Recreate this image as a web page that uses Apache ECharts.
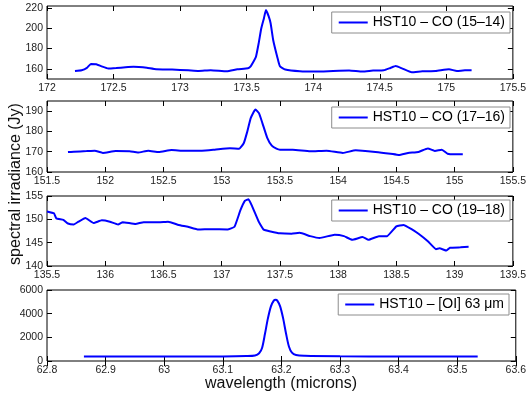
<!DOCTYPE html>
<html><head><meta charset="utf-8">
<script src="https://cdn.jsdelivr.net/npm/echarts@6/dist/echarts.min.js"></script>
<style>html,body{margin:0;padding:0;background:#fff}#c{width:529px;height:401px}</style>
</head><body><div id="c"></div><script>
// ---- data ----
const names = ['HST10 \u2013 CO (15\u201314)', 'HST10 \u2013 CO (17\u201316)', 'HST10 \u2013 CO (19\u201318)', 'HST10 \u2013 [OI] 63 \u03bcm'];

const co1514_x = [172.21,172.26,172.30,172.33,172.37,172.41,172.46,172.52,172.59,172.65,172.69,172.75,172.82,172.94,173.06,173.14,173.23,173.35,173.43,173.51,173.53,173.555,173.57,173.59,173.61,173.63,173.645,173.665,173.68,173.70,173.73,173.75,173.79,173.90,174.02,174.15,174.27,174.37,174.45,174.53,174.58,174.62,174.67,174.74,174.82,174.92,175.02,175.08,175.14,175.19];
const co1514_y = [158,158.6,161,164.8,164.6,162.5,160.3,160.8,161.6,162,161.8,161,159.6,159.3,158.6,158,158.6,157.6,159.6,160.6,162.5,168,172,185,200,210,218,212,205,188,171.7,162.5,159.3,157.6,157.3,157.9,158.3,157.3,158.3,158.6,160.9,162.8,160.3,156.6,157.6,157.9,159.6,157.9,158.6,158.6];

const co1716_x = [151.68,151.73,151.84,151.91,151.98,152.09,152.21,152.28,152.37,152.46,152.57,152.68,152.83,152.94,153.07,153.15,153.19,153.22,153.25,153.29,153.32,153.35,153.39,153.43,153.47,153.50,153.61,153.76,153.90,154.04,154.15,154.32,154.45,154.52,154.60,154.69,154.77,154.83,154.89,154.94,155.00,155.07];
const co1716_y = [169.8,170,170.3,170.5,169.4,170.3,170.2,169.6,170.5,169.8,170.8,170.5,170.5,171,171.7,171.5,174.3,180,186.7,190.8,189,184,177,173,171.5,171,171,170.2,170.5,169.4,170.7,169.9,169,168.4,169.4,169.9,171.6,170.4,171,169,168.7,168.7];

const co1918_x = [135.50,135.56,135.58,135.64,135.68,135.73,135.77,135.83,135.90,135.97,136.04,136.11,136.15,136.26,136.33,136.46,136.54,136.63,136.71,136.80,136.91,137.05,137.11,137.16,137.20,137.23,137.26,137.32,137.36,137.42,137.50,137.60,137.67,137.76,137.84,137.97,138.05,138.12,138.21,138.26,138.35,138.42,138.50,138.56,138.63,138.69,138.77,138.84,138.87,138.93,138.96,139.05,139.12];
const co1918_y = [151.7,151.3,150.2,149.9,149.1,148.9,149.5,150.3,149.2,149.8,149.5,148.9,149.4,149,149.4,149.4,149.5,148.8,148.4,147.8,147.9,147.8,148.4,151.9,154,154.3,152.9,149.4,147.8,147.4,147,146.9,147.1,146.4,146,146.7,146.4,145.6,146.2,145.6,146.4,146.4,148.5,148.8,147.9,146.9,145.3,143.6,143.8,143.3,143.9,144,144.1];

const oi63_x = [62.863,62.9,63.0,63.1,63.14,63.155,63.162,63.167,63.172,63.177,63.182,63.187,63.190,63.193,63.198,63.203,63.208,63.213,63.218,63.225,63.24,63.3,63.4,63.535];
const oi63_y = [370,375,380,390,420,470,650,1100,2300,3600,4600,5100,5170,5100,4600,3600,2300,1200,700,500,440,400,380,370];

const xTicks = [[172,172.5,173,173.5,174,174.5,175,175.5],[151.5,152,152.5,153,153.5,154,154.5,155,155.5],[135.5,136,136.5,137,137.5,138,138.5,139,139.5],[62.8,62.9,63,63.1,63.2,63.3,63.4,63.5,63.6]];
const yTicks = [[160,180,200,220],[160,170,180,190],[140,145,150,155],[0,2000,4000,6000]];
const xRange = [[172,175.5],[151.5,155.5],[135.5,139.5],[62.8,63.6]];
const yRange = [[150,222],[160,195],[140,155],[0,6000]];

// ---- chart ----
const FONT = '"Liberation Sans", Arial, Helvetica, sans-serif';
const xs = [co1514_x, co1716_x, co1918_x, oi63_x];
const ys = [co1514_y, co1716_y, co1918_y, oi63_y];
const gridTop = [6, 101, 196, 290];
const gridH = [73, 71, 70, 71];
const legendTop = [12, 107, 200, 294];
const legendRight = [19, 19, 19, 20];
const smoothing = [0.15, 0.15, 0.1, 0.3];

const fmt = v => String(Math.round(v * 1000) / 1000);
const grid = [], xAxis = [], yAxis = [], series = [], legend = [];
for (let i = 0; i < 4; i++) {
  grid.push({left: 47, right: 10, top: gridTop[i], height: gridH[i], show: true, borderColor: '#000', borderWidth: 1, backgroundColor: '#fff'});
  const tick = {show: true, inside: true, length: 5, lineStyle: {color: '#000', width: 1}, customValues: xTicks[i]};
  xAxis.push({type: 'value', gridIndex: i, position: 'bottom', min: xRange[i][0], max: xRange[i][1],
    axisLine: {show: false}, splitLine: {show: false}, axisTick: tick,
    axisLabel: {customValues: xTicks[i], formatter: fmt, fontSize: 10.5, color: '#222', fontFamily: FONT, margin: 4, hideOverlap: false}});
  xAxis.push({type: 'value', gridIndex: i, position: 'top', min: xRange[i][0], max: xRange[i][1],
    axisLine: {show: false}, splitLine: {show: false}, axisTick: tick, axisLabel: {show: false}});
  const ytick = {show: true, inside: true, length: 5, lineStyle: {color: '#000', width: 1}, customValues: yTicks[i]};
  yAxis.push({type: 'value', gridIndex: i, position: 'left', min: yRange[i][0], max: yRange[i][1],
    axisLine: {show: false}, splitLine: {show: false}, axisTick: ytick,
    axisLabel: {customValues: yTicks[i], formatter: fmt, fontSize: 10.5, color: '#222', fontFamily: FONT, margin: 4}});
  yAxis.push({type: 'value', gridIndex: i, position: 'right', min: yRange[i][0], max: yRange[i][1],
    axisLine: {show: false}, splitLine: {show: false}, axisTick: ytick, axisLabel: {show: false}});
  series.push({type: 'line', name: names[i], xAxisIndex: 2 * i, yAxisIndex: 2 * i,
    data: xs[i].map((x, k) => [x, ys[i][k]]), symbol: 'none', showSymbol: false, smooth: smoothing[i],
    color: '#0000ff', lineStyle: {color: '#0000ff', width: 2}, animation: false, silent: true});
  legend.push({data: [{name: names[i], icon: 'rect'}], right: legendRight[i], top: legendTop[i], orient: 'horizontal',
    backgroundColor: '#fff', borderColor: '#8c8c8c', borderWidth: 1, borderRadius: 0,
    padding: [3, 5, 3, 7], itemWidth: 29, itemHeight: 2, itemGap: 0, selectedMode: false,
    itemStyle: {color: '#0000ff'},
    textStyle: {fontSize: 14, color: '#000', fontFamily: FONT, lineHeight: 15}});
}

const chart = echarts.init(document.getElementById('c'), null, {renderer: 'canvas'});
chart.setOption({
  animation: false,
  backgroundColor: '#fff',
  grid, xAxis, yAxis, series, legend,
  graphic: [
    {type: 'text', x: 16, y: 184, rotation: Math.PI / 2,
      style: {text: 'spectral irradiance (Jy)', font: '16px ' + FONT, fill: '#111', textAlign: 'center', textVerticalAlign: 'middle'}},
    {type: 'text', x: 281, y: 384,
      style: {text: 'wavelength (microns)', font: '16px ' + FONT, fill: '#111', textAlign: 'center', textVerticalAlign: 'middle'}}
  ]
});
</script></body></html>
